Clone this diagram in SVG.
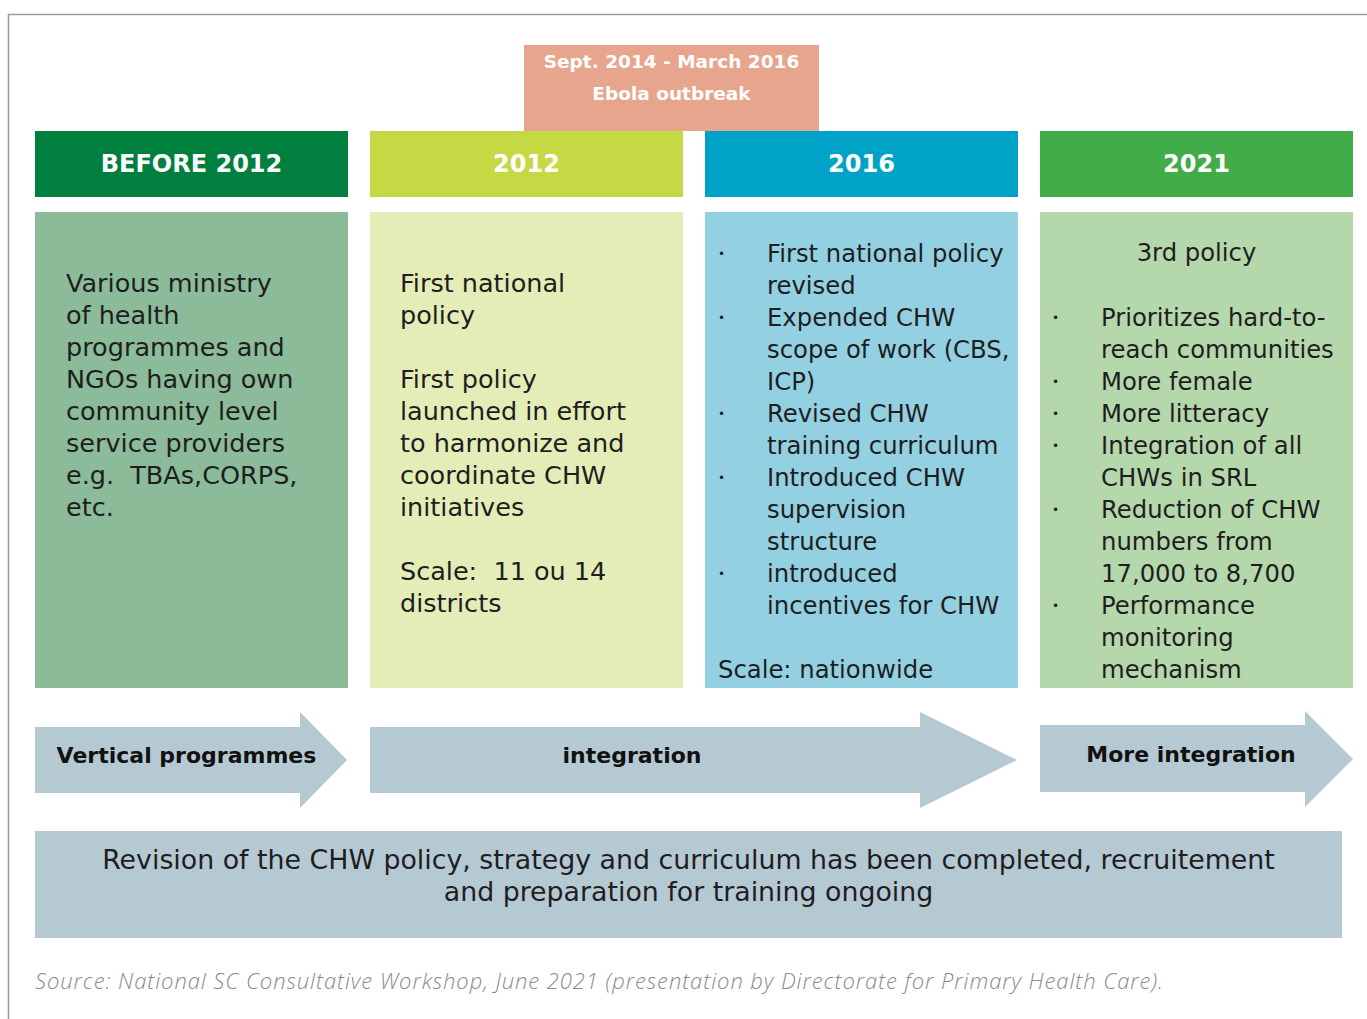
<svg xmlns="http://www.w3.org/2000/svg" width="1367" height="1019" viewBox="0 0 1367 1019">
  <style>
    .hdr { font-family: "DejaVu Sans", sans-serif; font-weight: bold; font-size: 24px; fill: #ffffff; text-anchor: middle; }
    .ebola { font-family: "DejaVu Sans", sans-serif; font-weight: bold; font-size: 18.5px; fill: #ffffff; text-anchor: middle; }
    .body { font-family: "DejaVu Sans", sans-serif; font-size: 25.5px; fill: #1e1e1e; }
    .narrow { font-size: 24.3px; }
    .bul { font-family: "DejaVu Sans", sans-serif; font-size: 12px; fill: #1e1e1e; }
    .arr { font-family: "DejaVu Sans", sans-serif; font-weight: bold; font-size: 22px; fill: #111111; text-anchor: middle; }
    .note { font-family: "DejaVu Sans", sans-serif; font-size: 26.8px; fill: #1e1e1e; text-anchor: middle; }
    .src { font-family: "Open Sans", Lato, sans-serif; font-weight: 300; font-style: italic; font-size: 22px; fill: #8a8a8a; }
    .arrow { fill: #b5c9d3; }
  </style>

  <!-- outer frame -->
  <path d="M8.5 1019 V14.5 H1367" fill="none" stroke="#9a9a9a" stroke-width="1.5"/>

  <!-- Ebola period banner -->
  <g id="ebola">
    <rect x="524" y="45" width="295" height="86" fill="#e8a58d"/>
    <text class="ebola" x="671.5" y="68">Sept. 2014 - March 2016</text>
    <text class="ebola" x="671.5" y="100">Ebola outbreak</text>
  </g>

  <!-- Period headers -->
  <g id="hdr-before2012">
    <rect x="35" y="131" width="313" height="66" fill="#007f3e"/>
    <text class="hdr" x="191.5" y="172">BEFORE 2012</text>
  </g>
  <g id="hdr-2012">
    <rect x="370" y="131" width="313" height="66" fill="#c5d944"/>
    <text class="hdr" x="526.5" y="172">2012</text>
  </g>
  <g id="hdr-2016">
    <rect x="705" y="131" width="313" height="66" fill="#00a3c7"/>
    <text class="hdr" x="861.5" y="172">2016</text>
  </g>
  <g id="hdr-2021">
    <rect x="1040" y="131" width="313" height="66" fill="#41ad49"/>
    <text class="hdr" x="1196.5" y="172">2021</text>
  </g>

  <!-- Period contents -->
  <g id="body-before2012">
    <rect x="35" y="212" width="313" height="476" fill="#8bbb99"/>
    <text class="body" x="66">
      <tspan x="66" y="292">Various ministry</tspan>
      <tspan x="66" y="324">of health</tspan>
      <tspan x="66" y="356">programmes and</tspan>
      <tspan x="66" y="388">NGOs having own</tspan>
      <tspan x="66" y="420">community level</tspan>
      <tspan x="66" y="452">service providers</tspan>
      <tspan x="66" y="484" xml:space="preserve">e.g.  TBAs,CORPS,</tspan>
      <tspan x="66" y="516">etc.</tspan>
    </text>
  </g>

  <g id="body-2012">
    <rect x="370" y="212" width="313" height="476" fill="#e4edb7"/>
    <text class="body" x="400">
      <tspan x="400" y="292">First national</tspan>
      <tspan x="400" y="324">policy</tspan>
      <tspan x="400" y="388">First policy</tspan>
      <tspan x="400" y="420">launched in effort</tspan>
      <tspan x="400" y="452">to harmonize and</tspan>
      <tspan x="400" y="484">coordinate CHW</tspan>
      <tspan x="400" y="516">initiatives</tspan>
      <tspan x="400" y="580" xml:space="preserve">Scale:  11 ou 14</tspan>
      <tspan x="400" y="612">districts</tspan>
    </text>
  </g>

  <g id="body-2016">
    <rect x="705" y="212" width="313" height="476" fill="#93d0e2"/>
    <g class="bul">
      <text x="718" y="258">•</text>
      <text x="718" y="322">•</text>
      <text x="718" y="418">•</text>
      <text x="718" y="482">•</text>
      <text x="718" y="578">•</text>
    </g>
    <text class="body narrow" x="767">
      <tspan x="767" y="262">First national policy</tspan>
      <tspan x="767" y="294">revised</tspan>
      <tspan x="767" y="326">Expended CHW</tspan>
      <tspan x="767" y="358">scope of work (CBS,</tspan>
      <tspan x="767" y="390">ICP)</tspan>
      <tspan x="767" y="422">Revised CHW</tspan>
      <tspan x="767" y="454">training curriculum</tspan>
      <tspan x="767" y="486">Introduced CHW</tspan>
      <tspan x="767" y="518">supervision</tspan>
      <tspan x="767" y="550">structure</tspan>
      <tspan x="767" y="582">introduced</tspan>
      <tspan x="767" y="614">incentives for CHW</tspan>
      <tspan x="718" y="678">Scale: nationwide</tspan>
    </text>
  </g>

  <g id="body-2021">
    <rect x="1040" y="212" width="313" height="476" fill="#b5d7ac"/>
    <text class="body narrow" x="1196.5" y="261" text-anchor="middle">3rd policy</text>
    <g class="bul">
      <text x="1052" y="322">•</text>
      <text x="1052" y="386">•</text>
      <text x="1052" y="418">•</text>
      <text x="1052" y="450">•</text>
      <text x="1052" y="514">•</text>
      <text x="1052" y="610">•</text>
    </g>
    <text class="body narrow" x="1101">
      <tspan x="1101" y="326">Prioritizes hard-to-</tspan>
      <tspan x="1101" y="358">reach communities</tspan>
      <tspan x="1101" y="390">More female</tspan>
      <tspan x="1101" y="422">More litteracy</tspan>
      <tspan x="1101" y="454">Integration of all</tspan>
      <tspan x="1101" y="486">CHWs in SRL</tspan>
      <tspan x="1101" y="518">Reduction of CHW</tspan>
      <tspan x="1101" y="550">numbers from</tspan>
      <tspan x="1101" y="582">17,000 to 8,700</tspan>
      <tspan x="1101" y="614">Performance</tspan>
      <tspan x="1101" y="646">monitoring</tspan>
      <tspan x="1101" y="678">mechanism</tspan>
    </text>
  </g>

  <!-- Progression arrows -->
  <g id="connectors">
    <g id="arrow-vertical">
      <path class="arrow" d="M35 727 H300 V712 L347 760 L300 808 V793 H35 Z"/>
      <text class="arr" x="186.5" y="763">Vertical programmes</text>
    </g>
    <g id="arrow-integration">
      <path class="arrow" d="M370 727 H920 V712 L1017 760 L920 808 V793 H370 Z"/>
      <text class="arr" x="632" y="763">integration</text>
    </g>
    <g id="arrow-more-integration">
      <path class="arrow" d="M1040 725 H1305 V711 L1353 759 L1305 807 V792 H1040 Z"/>
      <text class="arr" x="1191" y="762">More integration</text>
    </g>
  </g>

  <!-- Status note -->
  <g id="status">
    <rect x="35" y="831" width="1307" height="107" fill="#b5c9d3"/>
    <text class="note" x="688.5" y="869">Revision of the CHW policy, strategy and curriculum has been completed, recruitement</text>
    <text class="note" x="688.5" y="901">and preparation for training ongoing</text>
  </g>

  <text class="src" x="35" y="989" textLength="1128" lengthAdjust="spacing">Source: National SC Consultative Workshop, June 2021 (presentation by Directorate for Primary Health Care).</text>
</svg>
